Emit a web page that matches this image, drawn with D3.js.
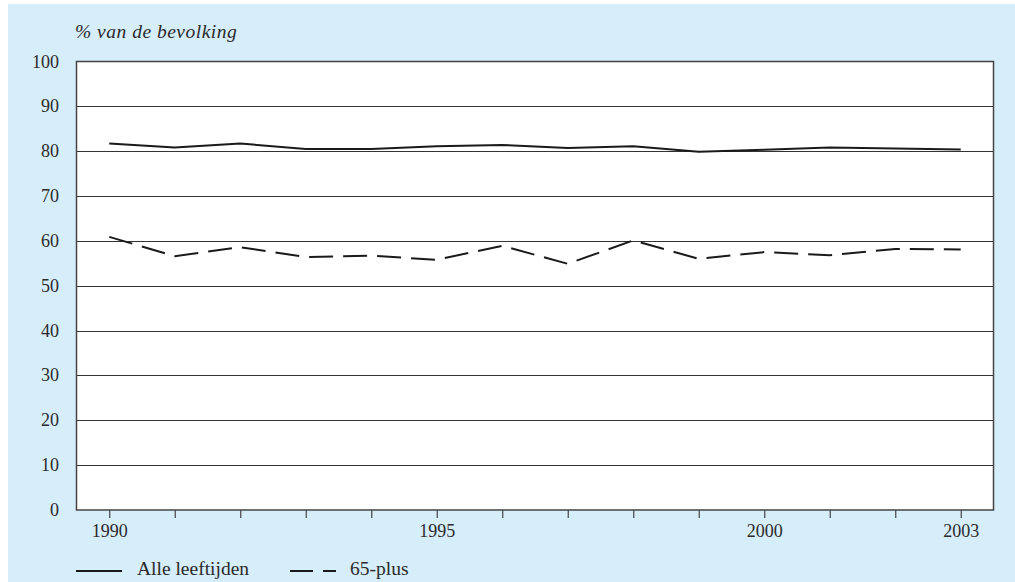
<!DOCTYPE html>
<html>
<head>
<meta charset="utf-8">
<script src="https://cdn.jsdelivr.net/npm/d3@7"></script>
<style>
  html, body { margin: 0; padding: 0; background: #ffffff; }
  svg { display: block; }
  text { font-family: "Liberation Serif", "DejaVu Serif", serif; fill: #2b2b2b; }
</style>
</head>
<body>
<svg id="chart" width="1015" height="582"></svg>
<script>
// ---- data ----
const years = [1990, 1991, 1992, 1993, 1994, 1995, 1996, 1997, 1998, 1999, 2000, 2001, 2002, 2003];
const alleLeeftijden = [81.7, 80.8, 81.7, 80.5, 80.5, 81.1, 81.4, 80.7, 81.1, 79.9, 80.3, 80.8, 80.6, 80.4];
const plus65 = [60.9, 56.6, 58.6, 56.4, 56.7, 55.8, 58.9, 54.9, 60.1, 56.0, 57.5, 56.8, 58.2, 58.1];
const yTicks = [0, 10, 20, 30, 40, 50, 60, 70, 80, 90, 100];
const xLabels = [1990, 1995, 2000, 2003];
const yAxisTitle = "% van de bevolking";
const seriesNames = ["Alle leeftijden", "65-plus"];

// ---- layout ----
const W = 1015, H = 582;
const plot = { left: 76.5, right: 993.5, top: 61.5, bottom: 510 };

const svg = d3.select("#chart");

// background panel
svg.append("rect").attr("x", 8).attr("y", 4).attr("width", W - 8).attr("height", H - 4)
  .attr("fill", "#d6edfa");

const x = d3.scaleLinear().domain([1989.5, 2003.5]).range([plot.left, plot.right]);
const y = d3.scaleLinear().domain([0, 100]).range([plot.bottom, plot.top]);

// plot area
svg.append("rect").attr("x", plot.left).attr("y", plot.top)
  .attr("width", plot.right - plot.left).attr("height", plot.bottom - plot.top)
  .attr("fill", "#ffffff");

// gridlines
svg.append("g").selectAll("line").data(yTicks.filter(d => d > 0 && d < 100)).join("line")
  .attr("x1", plot.left).attr("x2", plot.right)
  .attr("y1", d => Math.round(y(d)) + 0.5).attr("y2", d => Math.round(y(d)) + 0.5)
  .attr("stroke", "#333").attr("stroke-width", 1);

// y axis labels
svg.append("g").selectAll("text").data(yTicks).join("text")
  .attr("x", 59).attr("y", d => y(d) + 6)
  .attr("text-anchor", "end").attr("font-size", 18)
  .text(d => d);

// x axis ticks
const xAxis = d3.axisBottom(x).tickValues(years).tickSize(8).tickFormat(d => xLabels.includes(d) ? d : "");
const gx = svg.append("g").attr("transform", `translate(0,${plot.bottom})`).call(xAxis);
gx.select(".domain").remove();
gx.selectAll(".tick line").attr("stroke", "#444").attr("stroke-width", 1.2);
gx.selectAll(".tick text").attr("font-size", 18).attr("dy", 0).attr("y", 27)
  .attr("font-family", "Liberation Serif").attr("fill", "#2b2b2b");

// plot border
svg.append("rect").attr("x", plot.left).attr("y", plot.top)
  .attr("width", plot.right - plot.left).attr("height", plot.bottom - plot.top)
  .attr("fill", "none").attr("stroke", "#444").attr("stroke-width", 1.5);

// lines
const line = d3.line().x((d, i) => x(years[i])).y(d => y(d));
svg.append("path").datum(alleLeeftijden).attr("d", line)
  .attr("fill", "none").attr("stroke", "#1a1a1a").attr("stroke-width", 2);
svg.append("path").datum(plus65).attr("d", line)
  .attr("fill", "none").attr("stroke", "#1a1a1a").attr("stroke-width", 2)
  .attr("stroke-dasharray", "24,10");

// y axis title
svg.append("text").attr("x", 75).attr("y", 38).attr("font-size", 19.5)
  .attr("font-style", "italic").attr("letter-spacing", 0.5).text(yAxisTitle);

// legend
const lg = svg.append("g");
lg.append("line").attr("x1", 76).attr("x2", 122).attr("y1", 571).attr("y2", 571)
  .attr("stroke", "#1a1a1a").attr("stroke-width", 2);
lg.append("text").attr("x", 137).attr("y", 575).attr("font-size", 19.5).text(seriesNames[0]);
lg.append("line").attr("x1", 290).attr("x2", 336).attr("y1", 571).attr("y2", 571)
  .attr("stroke", "#1a1a1a").attr("stroke-width", 2).attr("stroke-dasharray", "23,10");
lg.append("text").attr("x", 350).attr("y", 575).attr("font-size", 19.5).text(seriesNames[1]);
</script>
</body>
</html>
